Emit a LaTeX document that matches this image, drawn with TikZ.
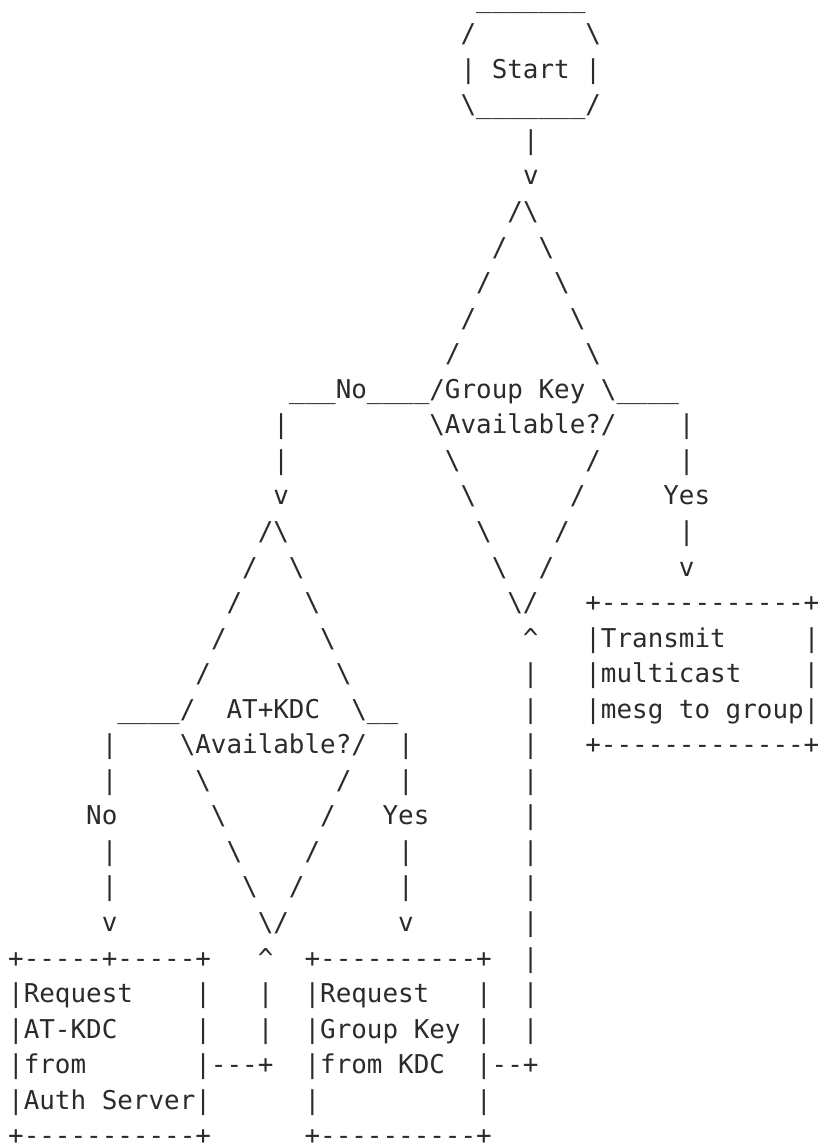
\documentclass[tikz,border=0pt]{standalone}
\usepackage{fontspec}
\setmonofont{DejaVu Sans Mono}
\usepackage{tikz}
\definecolor{asciiink}{HTML}{2B2B2B}
\newcommand\bsl{\textbackslash}
\tikzset{asciirow/.style={anchor=base west,inner sep=0pt,outer sep=0pt,text=asciiink,
  font=\ttfamily\fontsize{25.91pt}{35.55pt}\selectfont}}
\frenchspacing

\begin{document}
\begin{tikzpicture}[x=15.6pt,y=-35.55pt]
\useasboundingbox (-8.2pt,7.2pt) rectangle (811.8pt,-1138.8pt);
\node (row0) at (30,0) [asciirow] {\_\_\_\_\_\_\_};
\node (row1) at (29,1) [asciirow] {/~~~~~~~\bsl};
\node (row2) at (29,2) [asciirow] {|~Start~|};
\node (row3) at (29,3) [asciirow] {\bsl\_\_\_\_\_\_\_/};
\node (row4) at (33,4) [asciirow] {|};
\node (row5) at (33,5) [asciirow] {v};
\node (row6) at (32,6) [asciirow] {/\bsl};
\node (row7) at (31,7) [asciirow] {/~~\bsl};
\node (row8) at (30,8) [asciirow] {/~~~~\bsl};
\node (row9) at (29,9) [asciirow] {/~~~~~~\bsl};
\node (row10) at (28,10) [asciirow] {/~~~~~~~~\bsl};
\node (row11) at (18,11) [asciirow] {\_\_\_No\_\_\_\_/Group~Key~\bsl\_\_\_\_};
\node (row12) at (17,12) [asciirow] {|~~~~~~~~~\bsl{}Available?/~~~~|};
\node (row13) at (17,13) [asciirow] {|~~~~~~~~~~\bsl~~~~~~~~/~~~~~|};
\node (row14) at (17,14) [asciirow] {v~~~~~~~~~~~\bsl~~~~~~/~~~~~Yes};
\node (row15) at (16,15) [asciirow] {/\bsl~~~~~~~~~~~~\bsl~~~~/~~~~~~~|};
\node (row16) at (15,16) [asciirow] {/~~\bsl~~~~~~~~~~~~\bsl~~/~~~~~~~~v};
\node (row17) at (14,17) [asciirow] {/~~~~\bsl~~~~~~~~~~~~\bsl/~~~+-------------+};
\node (row18) at (13,18) [asciirow] {/~~~~~~\bsl~~~~~~~~~~~~\textasciicircum~~~|Transmit~~~~~|};
\node (row19) at (12,19) [asciirow] {/~~~~~~~~\bsl~~~~~~~~~~~|~~~|multicast~~~~|};
\node (row20) at (7,20) [asciirow] {\_\_\_\_/~~AT+KDC~~\bsl\_\_~~~~~~~~|~~~|mesg~to~group|};
\node (row21) at (6,21) [asciirow] {|~~~~\bsl{}Available?/~~|~~~~~~~|~~~+-------------+};
\node (row22) at (6,22) [asciirow] {|~~~~~\bsl~~~~~~~~/~~~|~~~~~~~|};
\node (row23) at (5,23) [asciirow] {No~~~~~~\bsl~~~~~~/~~~Yes~~~~~~|};
\node (row24) at (6,24) [asciirow] {|~~~~~~~\bsl~~~~/~~~~~|~~~~~~~|};
\node (row25) at (6,25) [asciirow] {|~~~~~~~~\bsl~~/~~~~~~|~~~~~~~|};
\node (row26) at (6,26) [asciirow] {v~~~~~~~~~\bsl/~~~~~~~v~~~~~~~|};
\node (row27) at (0,27) [asciirow] {+-----+-----+~~~\textasciicircum~~+----------+~~|};
\node (row28) at (0,28) [asciirow] {|Request~~~~|~~~|~~|Request~~~|~~|};
\node (row29) at (0,29) [asciirow] {|AT-KDC~~~~~|~~~|~~|Group~Key~|~~|};
\node (row30) at (0,30) [asciirow] {|from~~~~~~~|---+~~|from~KDC~~|--+};
\node (row31) at (0,31) [asciirow] {|Auth~Server|~~~~~~|~~~~~~~~~~|};
\node (row32) at (0,32) [asciirow] {+-----------+~~~~~~+----------+};
\end{tikzpicture}
\end{document}
